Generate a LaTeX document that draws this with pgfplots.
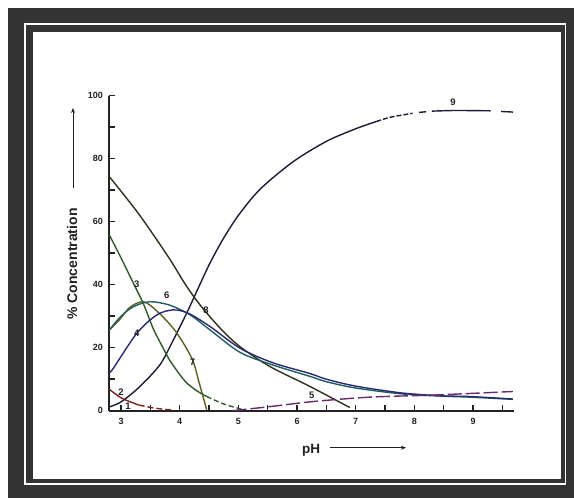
\documentclass[border=0pt]{standalone}
\usepackage{fontspec}
\setmainfont{Liberation Sans}
\usepackage{pgfplots}
\pgfplotsset{compat=1.18}
\usetikzlibrary{arrows.meta}
\definecolor{framec}{HTML}{333333}
\definecolor{axisc}{HTML}{222222}
\definecolor{c9}{HTML}{1C1C38}
\definecolor{c8}{HTML}{2E301E}
\definecolor{c3}{HTML}{2F5A2A}
\definecolor{c7}{HTML}{5E5E22}
\definecolor{c6}{HTML}{1F5E5E}
\definecolor{c4}{HTML}{2A2A70}
\definecolor{c2}{HTML}{7A2222}
\definecolor{c5}{HTML}{6A2A6A}
\begin{document}
\begin{tikzpicture}[x=1pt,y=1pt]
\useasboundingbox (0,0) rectangle (574,498);
\fill[white] (0,0) rectangle (574,498);
\fill[framec] (8,0) rectangle (574,490);
\fill[white] (23.5,13) rectangle (566,474.5);
\fill[framec] (25.5,15) rectangle (564.5,472.5);
\fill[white] (32.5,19) rectangle (560.5,466);
\begin{axis}[
  at={(109.3pt,87.3pt)}, anchor=south west,
  scale only axis, width=404.8pt, height=315pt,
  xmin=2.8, xmax=9.7, ymin=0, ymax=100,
  axis lines=left,
  axis line style={-, line width=2.2pt, color=axisc},
  every outer x axis line/.append style={-},
  every outer y axis line/.append style={-},
  every inner x axis line/.append style={-},
  every inner y axis line/.append style={-},
  tick align=inside,
  xtick={3,4,5,6,7,8,9},
  ytick={0,20,40,60,80,100},
  minor xtick={3.5,4.5,5.5,6.5,7.5,8.5,9.5},
  minor ytick={10,30,50,70,90},
  major tick length=6pt, minor tick length=6pt,
  tick style={line width=1.6pt, color=axisc},
  ticklabel style={font=\bfseries\fontsize{9}{10}\selectfont, text=axisc},
  /pgf/number format/assume math mode=true,
  xticklabel style={yshift=-4pt},
  yticklabel style={xshift=-3pt},
  clip=false,
]
% curve 9
\addplot[c9, line width=1.4pt, smooth] coordinates {
 (2.8,1.2) (3.0,2.8) (3.3,7.3) (3.66,14.5) (3.89,22.4) (4.12,31) (4.35,40.3) (4.52,47)
 (4.74,54.5) (5.0,62) (5.37,70.3) (5.93,79) (6.5,85.5) (7.0,89.5) (7.35,91.8)};
\addplot[c9, line width=1.4pt, smooth, dash pattern=on 5pt off 2pt] coordinates {
 (7.35,91.8) (7.6,93.2) (7.97,94.4)};
\addplot[c9, line width=1.4pt] coordinates {(8.08,94.7) (8.2,94.9)};
\addplot[c9, line width=1.4pt, smooth] coordinates {(8.3,95.1) (8.7,95.3) (9.3,95.2)};
\addplot[c9, line width=1.4pt] coordinates {(9.48,95.0) (9.68,94.8)};
% curve 8
\addplot[c8, line width=1.4pt, smooth] coordinates {
 (2.8,74.3) (3.3,62.5) (3.8,49) (4.1,40) (4.35,33.5) (4.7,26) (5.03,20.3)
 (5.54,14) (6.22,7.7) (6.9,1.0)};
% curve 3
\addplot[c3, line width=1.4pt, smooth] coordinates {
 (2.8,55.8) (3.0,48.5) (3.21,40.5) (3.38,34) (3.55,26) (3.7,20.5) (3.83,16)
 (4.0,11.5) (4.12,8.8) (4.3,6.2) (4.46,4.5)};
\addplot[c3, line width=1.4pt, smooth, dash pattern=on 5pt off 3pt] coordinates {
 (4.46,4.5) (4.7,2.5) (4.91,1.2) (5.05,0.5)};
% curve 7
\addplot[c7, line width=1.4pt, smooth] coordinates {
 (2.8,25.6) (2.98,29) (3.15,32.8) (3.38,34.6) (3.62,31.5) (3.93,25.2) (4.21,16.5)
 (4.33,9) (4.46,0.3)};
% curve 6
\addplot[c6, line width=1.4pt, smooth] coordinates {
 (2.8,25.6) (3.0,30) (3.21,33) (3.49,34.6) (3.83,33.5) (4.18,30.4) (4.52,25.6)
 (5.03,18.5) (5.59,14.5) (6.22,10.9) (6.5,9.2) (7.0,7.2) (7.8,5.3) (8.5,4.6)
 (8.95,4.3) (9.68,3.6)};
% curve 4
\addplot[c4, line width=1.4pt, smooth] coordinates {
 (2.8,12) (2.87,13.5) (3.27,24.6) (3.61,30.4) (3.89,32) (4.15,30.9) (4.52,26.7)
 (5.03,19.8) (5.59,15.2) (6.22,11.8) (6.5,10) (7.0,7.8) (7.8,5.6) (8.5,4.7)
 (8.95,4.5) (9.68,3.7)};
% curve 2
\addplot[c2, line width=1.4pt, smooth] coordinates {
 (2.8,6.8) (3.01,4.0) (3.3,1.8)};
\addplot[c2, line width=1.4pt, smooth, dash pattern=on 6pt off 3pt] coordinates {
 (3.3,1.8) (3.58,0.8) (3.86,0.2)};
% curve 5
\addplot[c5, line width=1.4pt, smooth, dash pattern=on 14pt off 4pt] coordinates {
 (4.9,0) (5.54,1.3) (6.27,2.9) (7.24,4.3) (8.38,5.0) (9.68,6.1)};
% labels
\begin{scope}[every node/.style={font=\bfseries\fontsize{9.5}{10}\selectfont, text=axisc, inner sep=0.5pt}]
\node at (axis cs:8.66,98) {9};
\node at (axis cs:4.45,32) {8};
\node at (axis cs:3.27,40) {3};
\node at (axis cs:3.78,36.7) {6};
\node at (axis cs:3.27,24.6) {4};
\node at (axis cs:4.22,15.5) {7};
\node at (axis cs:3.0,6) {2};
\node at (axis cs:3.12,1.5) {1};
\node at (axis cs:6.25,4.8) {5};
\end{scope}
\end{axis}
\node[rotate=90, font=\bfseries\fontsize{14}{16}\selectfont, text=axisc] at (72,234) {\% Concentration};
\draw[-{Stealth[length=5pt,width=4pt]}, line width=1pt, axisc] (73,310) -- (73,390);
\node[font=\bfseries\fontsize{13.5}{15}\selectfont, text=axisc] at (311,48) {pH};
\draw[-{Stealth[length=5pt,width=4pt]}, line width=1pt, axisc] (330,50.3) -- (406,50.3);
\end{tikzpicture}
\end{document}
